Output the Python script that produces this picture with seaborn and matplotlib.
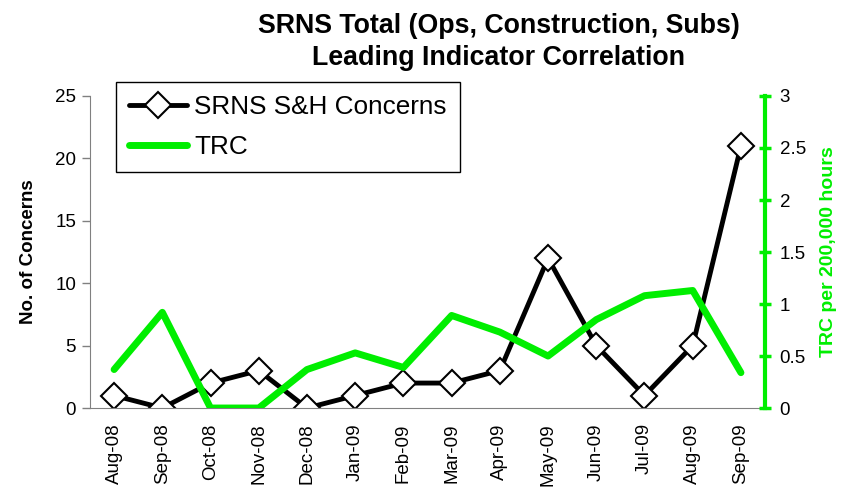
import matplotlib
matplotlib.use("Agg")
import matplotlib.pyplot as plt
import seaborn as sns
import pandas as pd
from matplotlib.ticker import FuncFormatter, MultipleLocator

months = ["Aug-08", "Sep-08", "Oct-08", "Nov-08", "Dec-08", "Jan-09", "Feb-09",
          "Mar-09", "Apr-09", "May-09", "Jun-09", "Jul-09", "Aug-09", "Sep-09"]
concerns = [1, 0, 2, 3, 0, 1, 2, 2, 3, 12, 5, 1, 5, 21]
trc = [0.37, 0.92, 0.0, 0.0, 0.37, 0.53, 0.39, 0.89, 0.73, 0.50, 0.85, 1.08, 1.13, 0.34]

df = pd.DataFrame({"pos": range(len(months)), "month": months,
                   "concerns": concerns, "trc": trc})

sns.set_style("white")
plt.rcParams["font.family"] = ["Liberation Sans", "DejaVu Sans"]
plt.rcParams["text.color"] = "black"
plt.rcParams["axes.labelcolor"] = "black"
plt.rcParams["xtick.color"] = "black"
plt.rcParams["ytick.color"] = "black"

green = "#00ee00"
grey = "#808080"

fig = plt.figure(figsize=(8.42, 4.90), dpi=100)
ax = fig.add_axes([0.1069, 0.1673, 0.9086 - 0.1069, 0.8041 - 0.1673])
ax2 = ax.twinx()

sns.lineplot(data=df, x="pos", y="concerns", ax=ax, color="black", linewidth=3.5,
             marker="D", markersize=13.5, markerfacecolor="white",
             markeredgecolor="black", markeredgewidth=1.5,
             label="SRNS S&H Concerns", legend=False)
sns.lineplot(data=df, x="pos", y="trc", ax=ax2, color=green, linewidth=5,
             label="TRC", legend=False)

ax.set_xlim(-0.5, len(months) - 0.5)
ax.set_ylim(0, 25)
ax2.set_ylim(0, 3)

# month labels centred, tick marks on the boundaries
ax.set_xticks(df["pos"])
ax.set_xticklabels(months, rotation=90, fontsize=13.5)
ax.set_xticks([p - 0.5 for p in range(len(months) + 1)], minor=True)
ax.tick_params(axis="x", which="major", length=0, pad=11)
ax.tick_params(axis="x", which="minor", length=5, width=1, color=grey, direction="out")

ax.yaxis.set_major_locator(MultipleLocator(5))
ax.tick_params(axis="y", length=6, width=1, color=grey, direction="out",
               labelsize=13.5, pad=4)
ax.set_xlabel("")
ax.set_ylabel("No. of Concerns", fontsize=13.5, fontweight="bold", labelpad=13)

ax2.yaxis.set_major_locator(MultipleLocator(0.5))
ax2.yaxis.set_major_formatter(FuncFormatter(lambda v, p: f"{v:g}"))
ax2.tick_params(axis="y", length=9, width=2.5, color=green, direction="inout",
                labelsize=13.5, labelcolor="black", pad=6)
ax2.set_ylabel("TRC per 200,000 hours", fontsize=14, fontweight="bold",
               color=green, labelpad=10)

for a in (ax, ax2):
    a.spines["top"].set_visible(False)
ax.spines["left"].set_color(grey)
ax.spines["bottom"].set_color(grey)
ax.spines["right"].set_visible(False)
ax2.spines["left"].set_visible(False)
ax2.spines["bottom"].set_visible(False)
ax2.spines["right"].set_color(green)
ax2.spines["right"].set_linewidth(3)

fig.text(0.5926, 0.915, "SRNS Total (Ops, Construction, Subs)\nLeading Indicator Correlation",
         ha="center", va="center", fontsize=19.3, fontweight="bold", linespacing=1.3)

h1, l1 = ax.get_legend_handles_labels()
h2, l2 = ax2.get_legend_handles_labels()
leg = fig.legend(h1 + h2, l1 + l2, loc="upper left",
                 bbox_to_anchor=(116 / 842, 1 - 82 / 490), fontsize=18.8,
                 frameon=True, fancybox=False, framealpha=1, edgecolor="black",
                 borderpad=0.5, borderaxespad=0, labelspacing=0.6,
                 handlelength=2.2, handletextpad=0.3)
leg.get_frame().set_linewidth(1)

fig.savefig("out.png", dpi=100)
